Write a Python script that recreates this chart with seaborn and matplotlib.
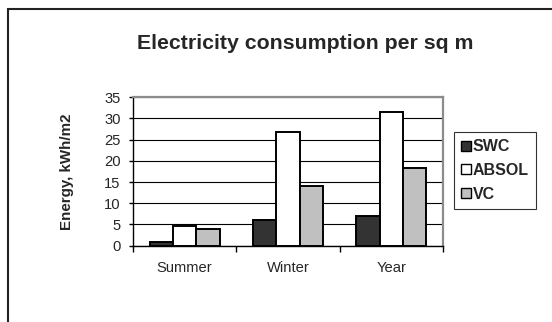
import matplotlib
matplotlib.use("Agg")
import matplotlib.pyplot as plt
import matplotlib.patches as mpatches
from matplotlib.ticker import FixedLocator, NullFormatter
import seaborn as sns
import pandas as pd

# Electricity use per square metre, by period and system
periods = ["Summer", "Winter", "Year"]
series = ["SWC", "ABSOL", "VC"]
swc = [0.9, 6.1, 6.9]
absol = [4.7, 26.9, 31.5]
vc = [4.0, 14.1, 18.2]
colors = ["#333333", "#ffffff", "#c0c0c0"]
yticks = [0, 5, 10, 15, 20, 25, 30, 35]

df = pd.DataFrame({
    "period": periods * 3,
    "series": [s for s in series for _ in periods],
    "energy": swc + absol + vc,
})

sns.set_style("white")
plt.rcParams["font.family"] = ["Liberation Sans", "DejaVu Sans"]

fig = plt.figure(figsize=(5.52, 3.22), dpi=100)
ax = fig.add_axes([0.241, 0.237, 0.5616, 0.461])

sns.barplot(data=df, x="period", y="energy", hue="series", order=periods,
            hue_order=series, palette=colors, edgecolor="black",
            linewidth=1.4, width=0.677, saturation=1, errorbar=None,
            legend=False, ax=ax, zorder=3)

ax.set_xlim(-0.5, 2.5)
ax.set_ylim(0, 35)
ax.set_yticks(yticks)
ax.yaxis.grid(True, color="black", linewidth=0.8, zorder=0)
ax.xaxis.grid(False)
ax.set_axisbelow(True)

# category boundaries carry the x tick marks
ax.xaxis.set_minor_locator(FixedLocator([-0.5, 0.5, 1.5, 2.5]))
ax.xaxis.set_minor_formatter(NullFormatter())
ax.tick_params(axis="x", which="major", length=0, pad=11, labelsize=10.6)
ax.tick_params(axis="x", which="minor", length=4, width=1, color="black",
               direction="out", bottom=True)
ax.tick_params(axis="y", length=3, width=1, color="black", direction="out",
               left=True, pad=6, labelsize=10.6)

for side in ("left", "bottom"):
    ax.spines[side].set_color("black")
    ax.spines[side].set_linewidth(1.0)
for side in ("top", "right"):
    ax.spines[side].set_visible(True)
    ax.spines[side].set_color("#8c8c8c")
    ax.spines[side].set_linewidth(1.6)

ax.set_xlabel("")
ax.set_ylabel("Energy, kWh/m2", fontsize=10.9, fontweight="bold")
ax.yaxis.set_label_coords(-0.19, 0.5)

fig.text(0.553, 0.866, "Electricity consumption per sq m", ha="center",
         va="center", fontsize=15.3, fontweight="bold")

handles = [mpatches.Patch(facecolor=c, edgecolor="black", linewidth=1.0, label=s)
           for s, c in zip(series, colors)]
leg = fig.legend(handles=handles, loc="upper left",
                 bbox_to_anchor=(0.8225, 0.59), bbox_transform=fig.transFigure,
                 borderaxespad=0, fancybox=False, frameon=True,
                 prop={"weight": "bold", "size": 11.5},
                 handlelength=0.6, handleheight=0.6, handletextpad=0.12,
                 labelspacing=0.55, borderpad=0.45)
leg.get_frame().set_edgecolor("black")
leg.get_frame().set_linewidth(0.8)

# chart-area frame
fig.patches.append(mpatches.Rectangle((0.0145, -0.1), 1.2, 1.0705,
                                      transform=fig.transFigure, fill=False,
                                      edgecolor="#222222", linewidth=1.5))

fig.savefig("out.png", dpi=100, facecolor="white")
